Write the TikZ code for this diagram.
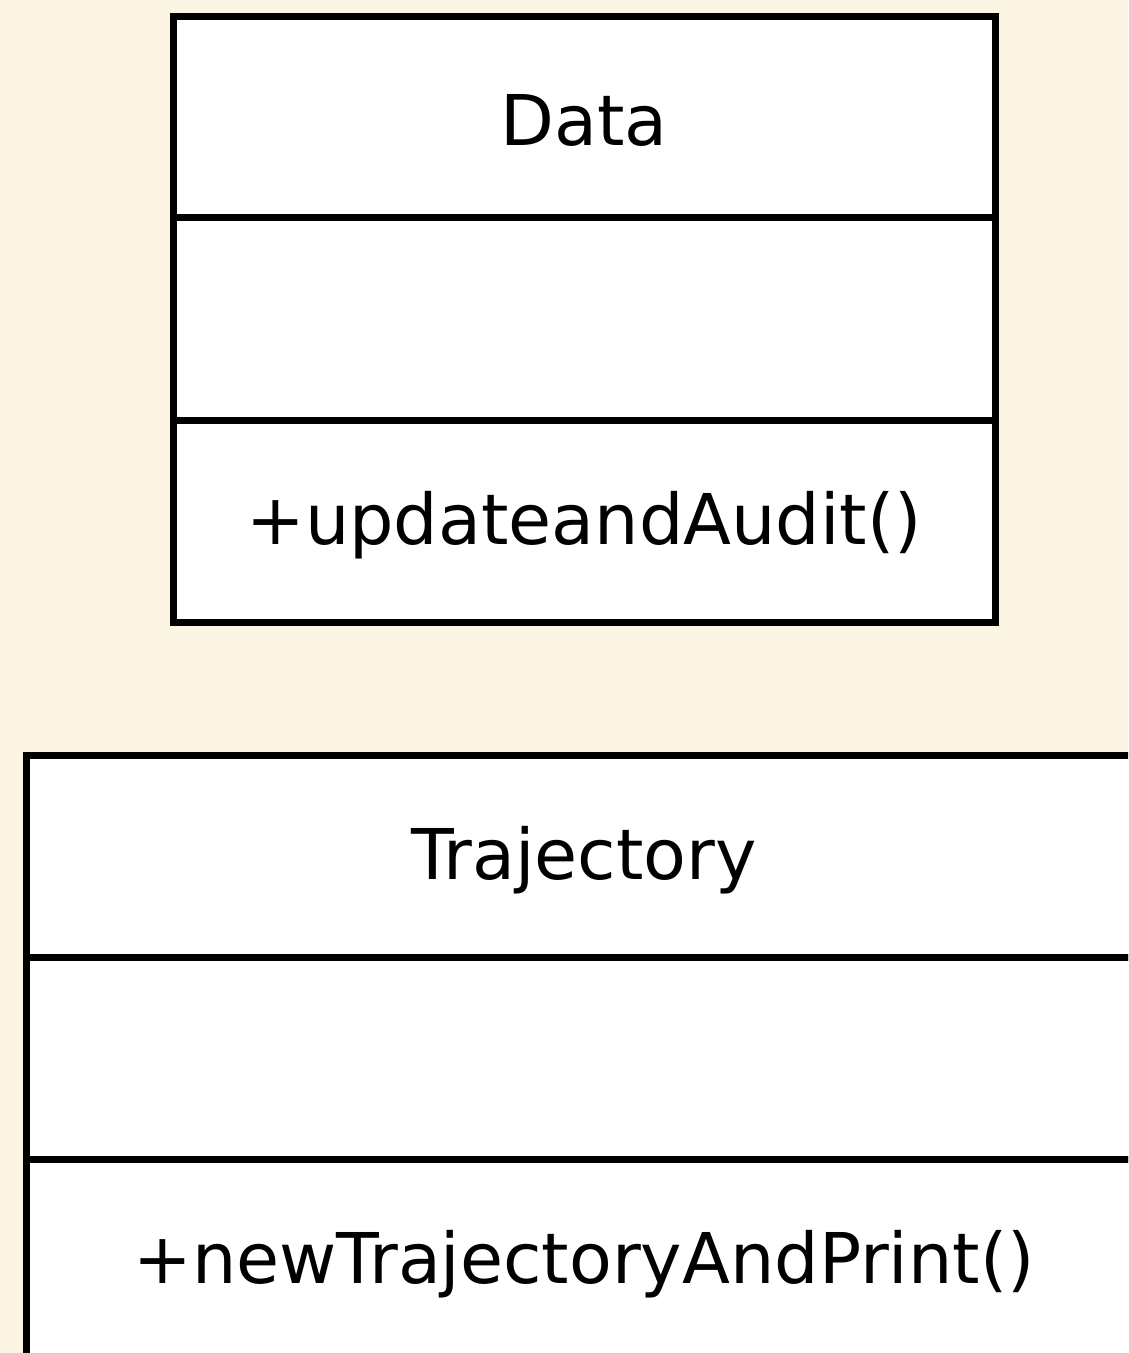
\documentclass[tikz,border=0pt]{standalone}
\usepackage{fontspec}
\setmainfont{DejaVu Sans}
\definecolor{bgcream}{HTML}{FDF5E3}
\begin{document}
\begin{tikzpicture}[x=1pt,y=-1pt,
  compart/.style={draw=black, fill=white, line width=7pt, rectangle, inner sep=0pt,
    minimum width=#1, anchor=center},
  compart/.default=822pt,
  umltext/.style={inner sep=0pt, font=\fontsize{70}{84}\selectfont, yshift=-4pt}]
\useasboundingbox (0,0) rectangle (1128,1353);
\fill[bgcream] (0,0) rectangle (1128,1353);
\clip (0,0) rectangle (1128,1353);
% Data class
\node[compart=822pt, minimum height=200.5pt] (dataname) at (584,116.75) {};
\node[compart=822pt, minimum height=203pt] (dataattr) at (584,318.5) {};
\node[compart=822pt, minimum height=202pt] (dataops) at (584,521) {};
\node[umltext] (datanametext) at (dataname.center) {Data};
\node[umltext] (dataopstext) at (dataops.center) {+updateandAudit()};
% Trajectory class
\node[compart=1115pt, minimum height=201.5pt] (trajname) at (584,856.25) {};
\node[compart=1115pt, minimum height=202pt] (trajattr) at (584,1058) {};
\node[compart=1115pt, minimum height=202pt] (trajops) at (584,1260) {};
\node[umltext] (trajnametext) at (trajname.center) {Trajectory};
\node[umltext] (trajopstext) at (trajops.center) {+newTrajectoryAndPrint()};
\end{tikzpicture}
\end{document}
